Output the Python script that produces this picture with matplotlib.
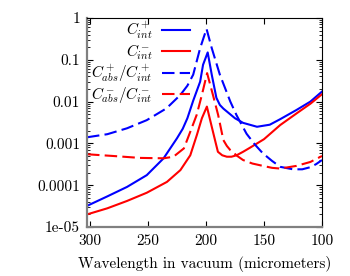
import matplotlib
matplotlib.use("Agg")
import matplotlib.pyplot as plt
from matplotlib.ticker import FixedLocator, FixedFormatter, LogLocator, NullFormatter

plt.rcParams['font.family'] = 'serif'
plt.rcParams['font.serif'] = ['cmr10', 'DejaVu Serif']
plt.rcParams['mathtext.fontset'] = 'cm'
plt.rcParams['axes.formatter.use_mathtext'] = True

# C+_int (blue solid)
wl_p_int = [302.5, 285, 268, 251, 236.5, 225, 220, 216, 211, 205, 202.5, 198.5,
            195, 191, 188, 185, 182, 175, 168, 156, 145, 136, 122, 110, 100]
c_p_int = [3.2e-5, 5.4e-5, 9.1e-5, 1.74e-4, 4.4e-4, 1.32e-3, 2.24e-3, 4.0e-3,
           0.0105, 0.030, 0.076, 0.15, 0.044, 0.0123, 0.0083, 0.0068, 0.0058,
           0.0040, 0.0031, 0.0025, 0.0028, 0.0038, 0.0063, 0.010, 0.0174]

# C-_int (red solid)
wl_m_int = [302.5, 285, 268, 251, 233.6, 222, 213.5, 207.8, 203.5, 199.2, 195,
            191.5, 189.7, 186, 182, 178, 173.6, 168, 162, 150, 136, 122, 110, 100]
c_m_int = [2.0e-5, 2.8e-5, 4.2e-5, 6.6e-5, 1.2e-4, 2.3e-4, 5.2e-4, 1.6e-3, 4.0e-3,
           7.6e-3, 2.5e-3, 1.0e-3, 6.3e-4, 5.2e-4, 4.8e-4, 4.8e-4, 5.2e-4, 6.3e-4,
           7.9e-4, 1.26e-3, 2.75e-3, 5.2e-3, 8.9e-3, 0.015]

# C+_abs / C+_int (blue dashed)
wl_p_abs = [302.5, 285, 268, 251, 234, 222, 216, 211, 205, 199.5, 195, 188, 179,
            173.6, 165, 158, 151, 143, 136, 125, 117, 110, 105, 100]
r_p_abs = [1.4e-3, 1.66e-3, 2.3e-3, 3.6e-3, 6.9e-3, 0.0145, 0.024, 0.044, 0.19,
           0.55, 0.19, 0.044, 0.010, 4.7e-3, 1.7e-3, 9.5e-4, 5.8e-4, 3.8e-4,
           2.75e-4, 2.4e-4, 2.4e-4, 2.7e-4, 3.2e-4, 4.0e-4]

# C-_abs / C-_int (red dashed)
wl_m_abs = [302.5, 280, 257, 236.5, 228, 219, 213.5, 208, 203.5, 199, 194, 189.5,
            185, 182, 179, 173, 168, 160, 151, 143, 136, 122, 110, 100]
r_m_abs = [5.5e-4, 5.0e-4, 4.5e-4, 4.4e-4, 4.8e-4, 7.6e-4, 1.9e-3, 4.8e-3, 0.0145,
           0.048, 0.0145, 4.8e-3, 1.2e-3, 8.7e-4, 6.9e-4, 5.0e-4, 4.0e-4, 3.3e-4,
           2.9e-4, 2.6e-4, 2.5e-4, 2.9e-4, 3.6e-4, 5.0e-4]

x_ticks = [300, 250, 200, 150, 100]
y_ticks = [1, 0.1, 0.01, 0.001, 0.0001, 1e-5]
y_labels = ['1', '0.1', '0.01', '0.001', '0.0001', '1e-05']

fig = plt.figure(figsize=(3.5, 2.76), dpi=100)
ax = fig.add_axes([87/350, 49/276, 235/350, 209/276])

lw = 1.5
dash = (6, 2.5)
ax.plot(wl_p_int, c_p_int, color='#0000ff', lw=lw, label=r'$C^+_{int}$')
ax.plot(wl_m_int, c_m_int, color='#ff0000', lw=lw, label=r'$C^-_{int}$')
ax.plot(wl_p_abs, r_p_abs, color='#0000ff', lw=lw, dashes=dash,
        label=r'$C^+_{abs}/C^+_{int}$')
ax.plot(wl_m_abs, r_m_abs, color='#ff0000', lw=lw, dashes=dash,
        label=r'$C^-_{abs}/C^-_{int}$')

ax.set_yscale('log')
ax.set_xlim(302.5, 100)
ax.set_ylim(1e-5, 1)

ax.xaxis.set_major_locator(FixedLocator(x_ticks))
ax.xaxis.set_major_formatter(FixedFormatter([str(t) for t in x_ticks]))
ax.yaxis.set_major_locator(FixedLocator(y_ticks))
ax.yaxis.set_major_formatter(FixedFormatter(y_labels))
ax.yaxis.set_minor_locator(LogLocator(base=10, subs=range(2, 10)))
ax.yaxis.set_minor_formatter(NullFormatter())

ax.tick_params(which='both', direction='in', top=True, right=True, labelsize=11,
               pad=5)
ax.tick_params(which='major', length=4, width=0.8)
ax.tick_params(which='minor', length=2, width=0.6)

for s in ['left', 'bottom']:
    ax.spines[s].set_color('#808080')
    ax.spines[s].set_linewidth(1.6)
for s in ['top', 'right']:
    ax.spines[s].set_color('black')
    ax.spines[s].set_linewidth(0.8)

ax.set_xlabel('Wavelength in vacuum (micrometers)', fontsize=11, labelpad=6)

fig.legend(loc='upper right', bbox_to_anchor=(190/350, 1 - 20/276),
           frameon=False, markerfirst=False, fontsize=11, handlelength=1.85,
           handletextpad=0.6, labelspacing=0.05, borderpad=0, borderaxespad=0)

fig.savefig('out.png', dpi=100)
